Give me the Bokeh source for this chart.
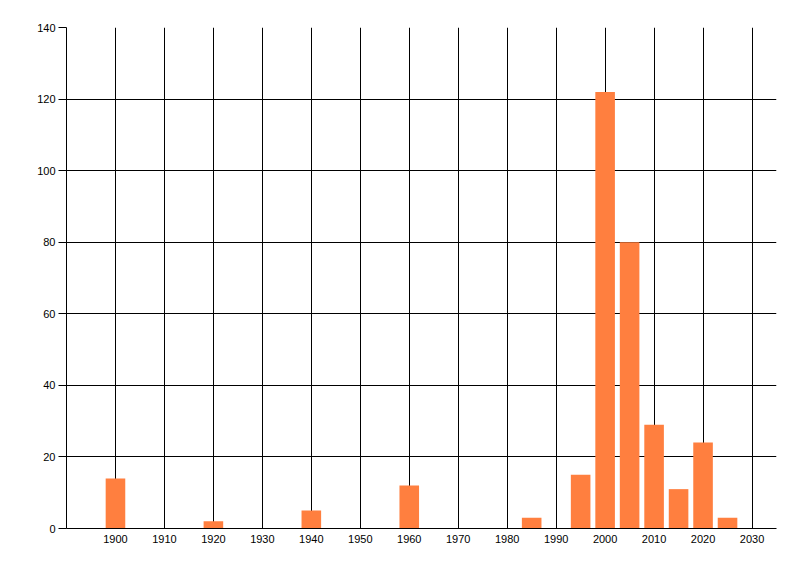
from bokeh.plotting import figure
from bokeh.models import FixedTicker, Range1d
from bokeh.embed import file_html
from bokeh.resources import INLINE

years = [1900, 1920, 1940, 1960, 1985, 1995, 2000, 2005, 2010, 2015, 2020, 2025]
counts = [14, 2, 5, 12, 3, 15, 122, 80, 29, 11, 24, 3]
x_ticks = list(range(1900, 2031, 10))
y_ticks = list(range(0, 141, 20))

p = figure(width=784, height=560, output_backend="svg", toolbar_location=None,
           x_range=Range1d(1890, 2035), y_range=Range1d(0, 140),
           min_border_left=66, min_border_right=8, min_border_top=27, min_border_bottom=32)
p.outline_line_color = None
p.background_fill_color = "white"
p.border_fill_color = "white"

p.vbar(x=years, top=counts, width=4, color="#FF7F3F", line_color=None)

for ax in (p.xaxis, p.yaxis):
    ax.axis_line_color = "black"
    ax.axis_line_width = 1
    ax.minor_tick_line_color = None
    ax.major_label_text_font = "Liberation Sans"
    ax.major_label_text_font_size = "11px"
    ax.major_label_text_color = "black"

p.xaxis.ticker = FixedTicker(ticks=x_ticks)
p.yaxis.ticker = FixedTicker(ticks=y_ticks)
p.xaxis.major_tick_out = 0
p.xaxis.major_tick_in = 0
p.xaxis.major_label_standoff = 6
p.yaxis.major_tick_out = 8
p.yaxis.major_tick_in = 0
p.yaxis.major_tick_line_color = "black"
p.yaxis.major_label_standoff = 3

p.xgrid.ticker = FixedTicker(ticks=x_ticks)
p.ygrid.ticker = FixedTicker(ticks=y_ticks)
for g in (p.xgrid, p.ygrid):
    g.grid_line_color = "black"
    g.grid_line_width = 1
    g.grid_line_alpha = 1.0

open("out.html", "w").write(file_html(p, INLINE))
